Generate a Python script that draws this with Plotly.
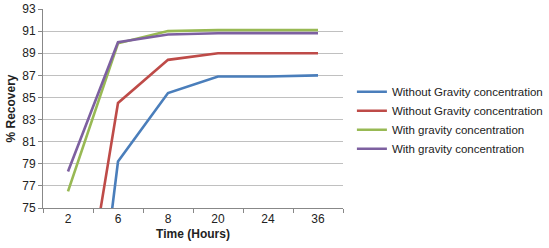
import plotly.graph_objects as go

categories = ["2", "6", "8", "20", "24", "36"]
names = ["Without Gravity concentration", "Without Gravity concentration",
         "With gravity concentration", "With gravity concentration"]
blue = [42.6, 79.2, 85.4, 86.9, 86.9, 87.0]
red = [57.0, 84.5, 88.4, 89.0, 89.0, 89.0]
green = [76.5, 89.9, 91.0, 91.1, 91.1, 91.1]
purple = [78.3, 90.0, 90.7, 90.8, 90.8, 90.8]
y_ticks = [75, 77, 79, 81, 83, 85, 87, 89, 91, 93]

colors = ["#4A7EBB", "#BE4B48", "#98B954", "#7D60A0"]
series = [blue, red, green, purple]

fig = go.Figure()
for n, s, c in zip(names, series, colors):
    fig.add_trace(go.Scatter(x=categories, y=s, name=n, mode="lines",
                             line=dict(color=c, width=2.6)))

fig.update_layout(
    width=549, height=248,
    margin=dict(l=43, r=206, t=9, b=40, autoexpand=False),
    paper_bgcolor="white", plot_bgcolor="white",
    font=dict(family="Liberation Sans, Arial", size=12, color="#222"),
    showlegend=True,
    legend=dict(xref="container", yref="container", x=0.641, xanchor="left",
                y=0.515, yanchor="middle",
                font=dict(size=11.5, color="#222"), tracegroupgap=0,
                itemwidth=30),
)
fig.update_xaxes(type="category", range=[-0.5, 5.5], tickson="boundaries",
                 ticks="outside", ticklen=4, tickcolor="#888", showline=True,
                 linecolor="#888", showgrid=False,
                 title=dict(text="<b>Time (Hours)</b>", font=dict(size=12), standoff=4))
fig.update_yaxes(range=[75, 93], tickvals=y_ticks, ticks="outside", ticklen=4,
                 tickcolor="#888", showline=True, linecolor="#888",
                 gridcolor="#C0C0C0", gridwidth=1, zeroline=False,
                 title=dict(text="<b>% Recovery</b>", font=dict(size=12), standoff=4))
fig.write_html("out.html")
